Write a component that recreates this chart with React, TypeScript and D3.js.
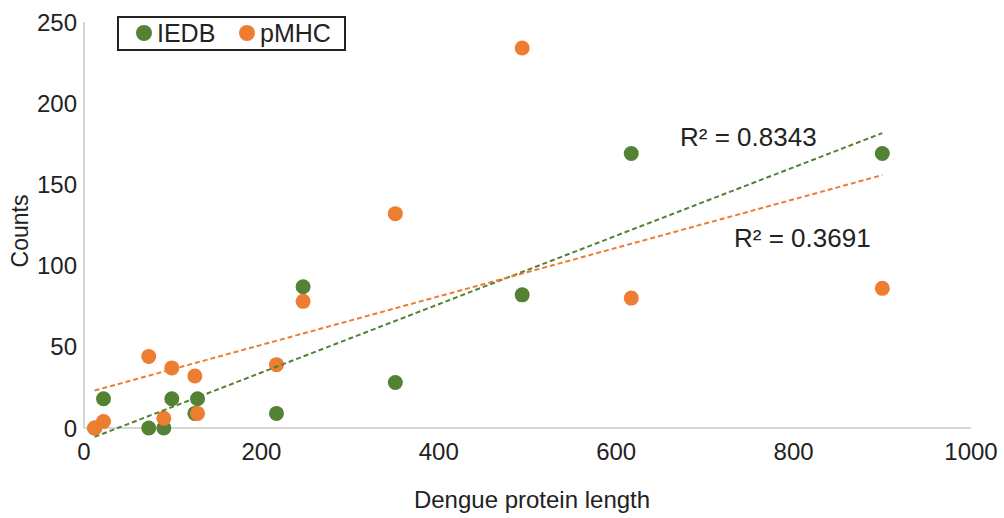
import React, { useEffect, useRef } from 'react';
import * as d3 from 'd3';

// protein lengths (x) shared by both series
const proteinLength = [12, 22, 73, 90, 99, 125, 128, 217, 247, 351, 494, 617, 900];
const iedbCounts = [0, 18, 0, 0, 18, 9, 18, 9, 87, 28, 82, 169, 169];
const pmhcCounts = [0, 4, 44, 6, 37, 32, 9, 39, 78, 132, 234, 80, 86];
const seriesNames = ['IEDB', 'pMHC'];
const r2Labels = ['R² = 0.8343', 'R² = 0.3691'];
const xTicks = [0, 200, 400, 600, 800, 1000];
const yTicks = [0, 50, 100, 150, 200, 250];

const colors = ['#548235', '#ED7D31'];

// least squares fit, same as the excel linear trendline
const fit = (xs: number[], ys: number[]) => {
  const mx = d3.mean(xs) as number;
  const my = d3.mean(ys) as number;
  let sxy = 0;
  let sxx = 0;
  xs.forEach((x, i) => {
    sxy += (x - mx) * (ys[i] - my);
    sxx += (x - mx) * (x - mx);
  });
  const slope = sxy / sxx;
  return { slope, intercept: my - slope * mx };
};

const Scatter = () => {
  const svgRef = useRef<SVGSVGElement>(null);

  useEffect(() => {
    const svg = d3.select(svgRef.current);
    svg.selectAll('*').remove();

    const font = 'Liberation Sans, Arial, sans-serif';
    const x = d3.scaleLinear().domain([0, 1000]).range([84, 971]);
    const y = d3.scaleLinear().domain([0, 250]).range([428, 22]);

    //axes lines
    svg
      .append('line')
      .attr('x1', x(0))
      .attr('x2', x(0))
      .attr('y1', y(250))
      .attr('y2', y(0))
      .attr('stroke', '#c8c8c8')
      .attr('stroke-width', 1.5);
    svg
      .append('line')
      .attr('x1', x(0))
      .attr('x2', x(1000))
      .attr('y1', y(0))
      .attr('y2', y(0))
      .attr('stroke', '#c8c8c8')
      .attr('stroke-width', 1.5);

    //tick labels
    svg
      .selectAll('.ytick')
      .data(yTicks)
      .join('text')
      .attr('x', 77)
      .attr('y', (d) => y(d))
      .attr('dy', '0.36em')
      .attr('text-anchor', 'end')
      .style('font-family', font)
      .style('font-size', '24px')
      .attr('fill', '#222')
      .text((d) => d);
    svg
      .selectAll('.xtick')
      .data(xTicks)
      .join('text')
      .attr('x', (d) => x(d))
      .attr('y', 451)
      .attr('dy', '0.36em')
      .attr('text-anchor', 'middle')
      .style('font-family', font)
      .style('font-size', '24px')
      .attr('fill', '#222')
      .text((d) => d);

    //axis titles
    svg
      .append('text')
      .attr('x', 532)
      .attr('y', 499)
      .attr('dy', '0.36em')
      .attr('text-anchor', 'middle')
      .style('font-family', font)
      .style('font-size', '24px')
      .attr('fill', '#222')
      .text('Dengue protein length');
    svg
      .append('text')
      .attr('transform', 'translate(20,231) rotate(-90)')
      .attr('dy', '0.36em')
      .attr('text-anchor', 'middle')
      .style('font-family', font)
      .style('font-size', '23px')
      .attr('fill', '#222')
      .text('Counts');

    const series = [iedbCounts, pmhcCounts];

    //points
    series.forEach((counts, s) => {
      svg
        .append('g')
        .selectAll('circle')
        .data(proteinLength)
        .join('circle')
        .attr('cx', (d) => x(d))
        .attr('cy', (d, i) => y(counts[i]))
        .attr('r', 7.5)
        .attr('fill', colors[s]);
    });

    //trendlines
    series.forEach((counts, s) => {
      const { slope, intercept } = fit(proteinLength, counts);
      const x0 = d3.min(proteinLength) as number;
      const x1 = d3.max(proteinLength) as number;
      svg
        .append('line')
        .attr('x1', x(x0))
        .attr('y1', y(intercept + slope * x0))
        .attr('x2', x(x1))
        .attr('y2', y(intercept + slope * x1))
        .attr('stroke', colors[s])
        .attr('stroke-width', 2)
        .attr('stroke-dasharray', '5,3');
    });

    //r squared labels
    const labelPos = [
      [680, 137],
      [734, 238]
    ];
    svg
      .selectAll('.r2')
      .data(r2Labels)
      .join('text')
      .attr('x', (d, i) => labelPos[i][0])
      .attr('y', (d, i) => labelPos[i][1])
      .attr('dy', '0.36em')
      .style('font-family', font)
      .style('font-size', '26px')
      .attr('fill', '#222')
      .text((d) => d);

    //legend
    const legend = svg.append('g');
    legend
      .append('rect')
      .attr('x', 118)
      .attr('y', 17)
      .attr('width', 227)
      .attr('height', 33)
      .attr('fill', 'white')
      .attr('stroke', '#222')
      .attr('stroke-width', 2);
    const legendX = [144, 247];
    seriesNames.forEach((name, i) => {
      legend
        .append('circle')
        .attr('cx', legendX[i])
        .attr('cy', 33)
        .attr('r', 8)
        .attr('fill', colors[i]);
      legend
        .append('text')
        .attr('x', legendX[i] + 13)
        .attr('y', 33)
        .attr('dy', '0.36em')
        .style('font-family', font)
        .style('font-size', '25px')
        .attr('fill', '#222')
        .text(name);
    });
  }, []);

  return (
    <svg
      ref={svgRef}
      width={1004}
      height={518}
      style={{ position: 'absolute', left: 0, top: 0, background: 'white' }}
    ></svg>
  );
};

export default function App() {
  return <Scatter />;
}
